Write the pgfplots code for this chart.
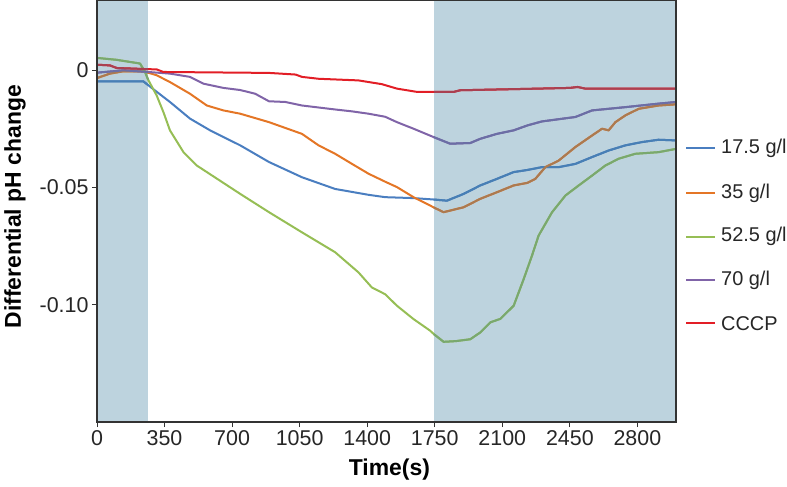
\documentclass[border=0pt]{standalone}
\usepackage{fontspec}
\setmainfont{Liberation Sans}
\usepackage{pgfplots}
\usepackage{pgfplotstable}
\pgfplotsset{compat=1.18}
\definecolor{cBlue}{RGB}{74,126,192}
\definecolor{cOrange}{RGB}{228,118,38}
\definecolor{cGreen}{RGB}{150,190,85}
\definecolor{cPurple}{RGB}{128,100,168}
\definecolor{cRed}{RGB}{226,30,38}
\definecolor{mBlue}{RGB}{72,127,181}
\definecolor{mOrange}{RGB}{171,122,81}
\definecolor{mGreen}{RGB}{121,168,111}
\definecolor{mPurple}{RGB}{107,110,165}
\definecolor{mRed}{RGB}{170,64,81}
\definecolor{cShade}{RGB}{189,211,222}
\pgfplotstableread{
t v
0 -0.0047
240 -0.0047
265 -0.0063
277 -0.0071
378 -0.0135
482 -0.0206
586 -0.0256
742 -0.032
891 -0.0391
1062 -0.0456
1234 -0.0506
1407 -0.0531
1493 -0.0541
1640 -0.0545
1745 -0.0551
1813 -0.0556
1900 -0.0527
1986 -0.0491
2072 -0.0463
2159 -0.0434
2230 -0.0425
2305 -0.0413
2392 -0.0413
2479 -0.0399
2565 -0.037
2651 -0.0342
2738 -0.032
2824 -0.0306
2910 -0.0296
3000 -0.0299
}\tblue
\pgfplotstableread{
t v
0 -0.0033
67 -0.0014
137 -0.0004
240 -0.0004
265 -0.0010
309 -0.0021
378 -0.005
482 -0.01
569 -0.015
655 -0.0171
742 -0.0185
891 -0.0221
1062 -0.0271
1148 -0.032
1234 -0.0356
1321 -0.0399
1407 -0.0441
1493 -0.0475
1554 -0.0498
1640 -0.0541
1727 -0.0577
1745 -0.0585
1796 -0.0605
1900 -0.0584
1986 -0.0548
2072 -0.052
2159 -0.0491
2230 -0.048
2271 -0.0463
2323 -0.0413
2392 -0.0385
2479 -0.0327
2565 -0.0278
2617 -0.0249
2651 -0.0256
2686 -0.0221
2738 -0.0192
2807 -0.0164
2910 -0.015
3000 -0.0145
}\torange
\pgfplotstableread{
t v
0 0.0053
100 0.0045
223 0.0029
249 -0.0007
265 -0.0040
309 -0.0107
345 -0.018
378 -0.0256
448 -0.0349
517 -0.0406
623 -0.0463
742 -0.0527
891 -0.0605
1062 -0.0691
1234 -0.0776
1355 -0.0862
1424 -0.0926
1493 -0.0955
1554 -0.1004
1640 -0.1061
1727 -0.1111
1745 -0.1125
1796 -0.1158
1860 -0.1155
1934 -0.1147
1986 -0.1118
2038 -0.1075
2090 -0.106
2159 -0.1004
2211 -0.089
2254 -0.079
2288 -0.0705
2358 -0.0605
2427 -0.0534
2496 -0.0491
2565 -0.0449
2634 -0.0406
2703 -0.0377
2789 -0.0356
2910 -0.0349
3000 -0.0335
}\tgreen
\pgfplotstableread{
t v
0 -0.001
137 0
265 -0.0007
378 -0.0014
482 -0.0028
552 -0.0057
655 -0.0075
742 -0.0084
820 -0.01
891 -0.0132
976 -0.0135
1062 -0.015
1234 -0.0167
1321 -0.0175
1407 -0.0185
1493 -0.0198
1554 -0.0221
1640 -0.0249
1745 -0.0285
1830 -0.0313
1934 -0.031
1986 -0.0292
2072 -0.0271
2159 -0.0256
2230 -0.0235
2305 -0.0218
2479 -0.0199
2565 -0.0171
2738 -0.0157
2910 -0.0142
3000 -0.0135
}\tpurple
\pgfplotstableread{
t v
0 0.0024
67 0.0021
102 0.001
265 0.0005
309 0.0004
344 -0.0007
891 -0.0011
1029 -0.0018
1062 -0.0028
1148 -0.0036
1355 -0.0043
1476 -0.0059
1554 -0.0078
1658 -0.0092
1745 -0.0092
1848 -0.0092
1882 -0.0085
2230 -0.0079
2450 -0.0075
2490 -0.0071
2530 -0.0078
3000 -0.0078
}\tred
\begin{document}
\begin{tikzpicture}
\path[use as bounding box] (0,0) rectangle (787bp,487bp);
\begin{axis}[
 at={(97bp,65bp)}, anchor=south west,
 scale only axis, width=579bp, height=422bp,
 xmin=0, xmax=3000, ymin=-0.15, ymax=0.03,
 axis on top,
 axis line style={draw=black!80, line width=1.2bp},
 tick align=outside, tick pos=left, major tick length=5bp,
 tick style={black!80, line width=1bp},
 xtick={0,350,...,2800},
 xticklabels={0,350,700,1050,1400,1750,2100,2450,2800},
 ytick={-0.1,-0.05,0}, yticklabels={-0.10,-0.05,0},
 /pgf/number format/assume math mode=true,
 ticklabel style={font=\fontsize{21.5}{24}\selectfont, text=black!85},
 xlabel={Time(s)}, ylabel={Differential pH change},
 label style={font=\bfseries\fontsize{23}{26}\selectfont},
 xlabel style={at={(axis description cs:0.505,-0.1137)}, anchor=center},
 ylabel style={at={(axis description cs:-0.1416,0.51)}, anchor=center},
 every axis plot/.append style={line width=2bp, line join=round},
]
\addplot[draw=none, fill=cShade] coordinates {
(0,-0.15) (265,-0.15) (265,0.03) (0,0.03)} -- cycle;
\addplot[draw=none, fill=cShade] coordinates {
(1745,-0.15) (3000,-0.15) (3000,0.03) (1745,0.03)} -- cycle;
\addplot[cBlue] table[x=t,y=v] {\tblue};
\addplot[cOrange] table[x=t,y=v] {\torange};
\addplot[cGreen] table[x=t,y=v] {\tgreen};
\addplot[cPurple] table[x=t,y=v] {\tpurple};
\addplot[cRed] table[x=t,y=v] {\tred};
% muted overlays inside the shaded bands
\addplot[mBlue, restrict x to domain=0:265] table[x=t,y=v] {\tblue};
\addplot[mOrange, restrict x to domain=0:265] table[x=t,y=v] {\torange};
\addplot[mGreen, restrict x to domain=0:265] table[x=t,y=v] {\tgreen};
\addplot[mPurple, restrict x to domain=0:265] table[x=t,y=v] {\tpurple};
\addplot[mRed, restrict x to domain=0:265] table[x=t,y=v] {\tred};
\addplot[mBlue, restrict x to domain=1745:3000] table[x=t,y=v] {\tblue};
\addplot[mOrange, restrict x to domain=1745:3000] table[x=t,y=v] {\torange};
\addplot[mGreen, restrict x to domain=1745:3000] table[x=t,y=v] {\tgreen};
\addplot[mPurple, restrict x to domain=1745:3000] table[x=t,y=v] {\tpurple};
\addplot[mRed, restrict x to domain=1745:3000] table[x=t,y=v] {\tred};
\end{axis}
% legend
\begin{scope}[every node/.style={anchor=west, font=\fontsize{20}{24}\selectfont, text=black!85, inner sep=0pt}]
\draw[cBlue, line width=2bp] (686bp,338.7bp) -- (715bp,338.7bp);
\node at (721bp,338.7bp) {17.5 g/l};
\draw[cOrange, line width=2bp] (686bp,293.9bp) -- (715bp,293.9bp);
\node at (721bp,293.9bp) {35 g/l};
\draw[cGreen, line width=2bp] (686bp,250.3bp) -- (715bp,250.3bp);
\node at (721bp,250.3bp) {52.5 g/l};
\draw[cPurple, line width=2bp] (686bp,207bp) -- (715bp,207bp);
\node at (721bp,207bp) {70 g/l};
\draw[cRed, line width=2bp] (686bp,163.7bp) -- (715bp,163.7bp);
\node at (721bp,163.7bp) {CCCP};
\end{scope}
\end{tikzpicture}
\end{document}
